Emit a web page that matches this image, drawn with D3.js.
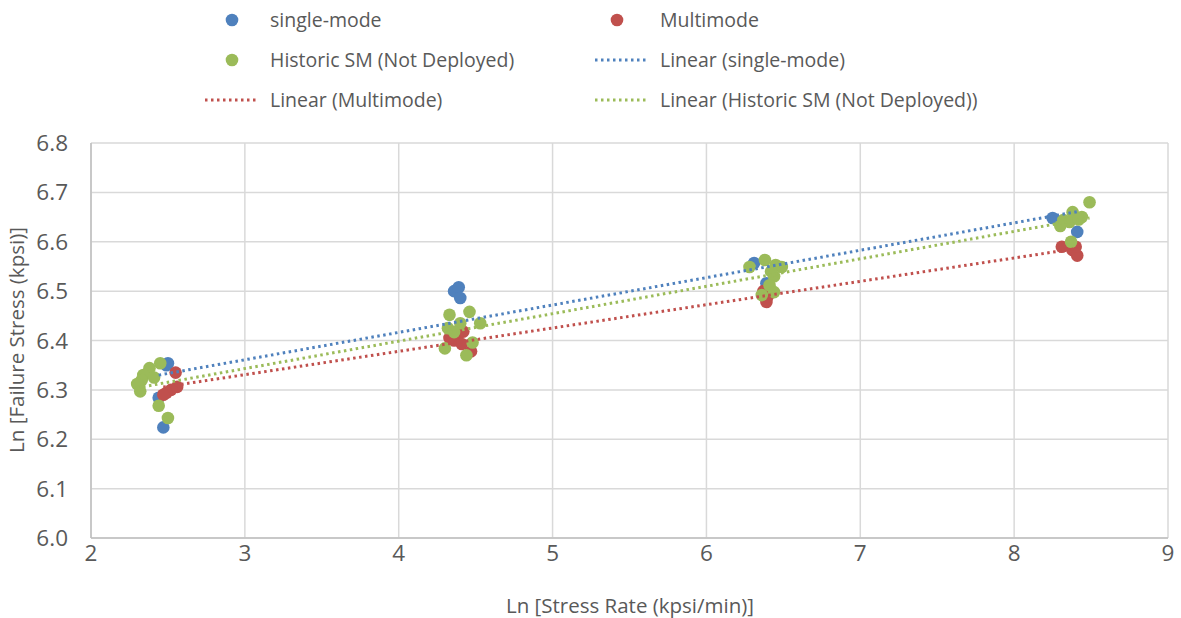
<!DOCTYPE html>
<html><head><meta charset="utf-8">
<script src="https://cdn.jsdelivr.net/npm/d3@7"></script>
<style>body{margin:0;background:#fff}text{font-family:"Liberation Sans Narrow","Open Sans",sans-serif;fill:#595959}</style>
</head><body><svg id="c" width="1181" height="618"></svg>
<script>
const singleMode = [[2.49,6.350],[2.44,6.284],[2.47,6.224],[2.50,6.354],
  [4.36,6.500],[4.39,6.508],[4.40,6.486],
  [6.31,6.557],[6.39,6.516],
  [8.25,6.648],[8.41,6.620]];
const multimode = [[2.55,6.335],[2.56,6.306],[2.52,6.300],[2.49,6.294],[2.47,6.290],
  [4.38,6.410],[4.36,6.400],[4.41,6.393],[4.47,6.378],[4.42,6.418],[4.33,6.405],
  [6.39,6.478],[6.37,6.500],[6.40,6.490],
  [8.31,6.590],[8.38,6.583],[8.41,6.572],[8.40,6.590]];
const historicSM = [[2.45,6.354],[2.38,6.344],[2.34,6.330],[2.33,6.320],[2.30,6.312],[2.32,6.297],[2.44,6.268],[2.50,6.243],[2.41,6.325],
  [4.33,6.452],[4.46,6.458],[4.53,6.435],[4.32,6.425],[4.40,6.435],[4.30,6.384],[4.44,6.370],[4.48,6.396],[4.36,6.417],
  [6.28,6.549],[6.38,6.563],[6.45,6.553],[6.49,6.549],[6.44,6.530],[6.41,6.512],[6.44,6.498],[6.36,6.492],[6.42,6.540],
  [8.49,6.680],[8.38,6.660],[8.32,6.644],[8.44,6.650],[8.36,6.640],[8.37,6.600],[8.42,6.645],[8.30,6.632]];
const xTicks = [2,3,4,5,6,7,8,9];
const yTicks = [6.0,6.1,6.2,6.3,6.4,6.5,6.6,6.7,6.8];
const seriesNames = ["single-mode","Multimode","Historic SM (Not Deployed)"];
const colors = ["#4F81BD","#C0504D","#9BBB59"];
const allSeries = [singleMode, multimode, historicSM];

const svg = d3.select("#c");
const x = d3.scaleLinear().domain([2,9]).range([91,1168]);
const y = d3.scaleLinear().domain([6.0,6.8]).range([538,143]);

// gridlines
svg.append("g").selectAll("line.h").data(yTicks).join("line")
  .attr("x1",x(2)).attr("x2",x(9)).attr("y1",d=>y(d)).attr("y2",d=>y(d))
  .attr("stroke","#d9d9d9").attr("stroke-width",1.5);
svg.append("g").selectAll("line.v").data(xTicks).join("line")
  .attr("y1",y(6.0)).attr("y2",y(6.8)).attr("x1",d=>x(d)).attr("x2",d=>x(d))
  .attr("stroke","#d9d9d9").attr("stroke-width",1.5);
// axis lines
svg.append("line").attr("x1",x(2)).attr("x2",x(9)).attr("y1",y(6)).attr("y2",y(6)).attr("stroke","#bfbfbf").attr("stroke-width",1.5);
svg.append("line").attr("x1",x(2)).attr("x2",x(2)).attr("y1",y(6)).attr("y2",y(6.8)).attr("stroke","#bfbfbf").attr("stroke-width",1.5);

// tick labels
svg.append("g").selectAll("text").data(yTicks).join("text")
  .attr("x",68).attr("y",d=>y(d)).attr("dy","0.36em").attr("text-anchor","end")
  .attr("font-size",22.5).text(d=>d.toFixed(1));
svg.append("g").selectAll("text").data(xTicks).join("text")
  .attr("x",d=>x(d)).attr("y",561).attr("text-anchor","middle")
  .attr("font-size",22.5).text(d=>d);

// axis titles
svg.append("text").attr("x",630).attr("y",613).attr("text-anchor","middle").attr("font-size",20.5).text("Ln [Stress Rate (kpsi/min)]");
svg.append("text").attr("transform","translate(24,340) rotate(-90)").attr("text-anchor","middle").attr("font-size",20.5).text("Ln [Failure Stress (kpsi)]");

// points
allSeries.forEach((s,i)=>{
  svg.append("g").selectAll("circle").data(s).join("circle")
    .attr("cx",d=>x(d[0])).attr("cy",d=>y(d[1])).attr("r",6.3).attr("fill",colors[i]);
});

// trendlines
function fit(s){
  const mx=d3.mean(s,d=>d[0]), my=d3.mean(s,d=>d[1]);
  const b=d3.sum(s,d=>(d[0]-mx)*(d[1]-my))/d3.sum(s,d=>(d[0]-mx)**2);
  const a=my-b*mx; const [x0,x1]=d3.extent(s,d=>d[0]);
  return [[x0,a+b*x0],[x1,a+b*x1]];
}
const line=d3.line().x(d=>x(d[0])).y(d=>y(d[1]));
allSeries.forEach((s,i)=>{
  svg.append("path").attr("d",line(fit(s))).attr("stroke",colors[i]).attr("stroke-width",3)
    .attr("stroke-dasharray","2.5 3.5").attr("fill","none");
});

// legend
const leg = svg.append("g");
const legItems = [
  {t:"marker",c:0,lx:232,tx:270,y:20,label:seriesNames[0]},
  {t:"marker",c:1,lx:617,tx:660,y:20,label:seriesNames[1]},
  {t:"marker",c:2,lx:232,tx:270,y:60,label:seriesNames[2]},
  {t:"line",c:0,lx:595,tx:660,y:60,label:"Linear ("+seriesNames[0]+")"},
  {t:"line",c:1,lx:205,tx:270,y:100,label:"Linear ("+seriesNames[1]+")"},
  {t:"line",c:2,lx:595,tx:660,y:100,label:"Linear ("+seriesNames[2]+")"}
];
legItems.forEach(it=>{
  if(it.t==="marker") leg.append("circle").attr("cx",it.lx).attr("cy",it.y).attr("r",6.3).attr("fill",colors[it.c]);
  else leg.append("line").attr("x1",it.lx).attr("x2",it.lx+52).attr("y1",it.y).attr("y2",it.y)
    .attr("stroke",colors[it.c]).attr("stroke-width",3).attr("stroke-dasharray","2.5 3.5");
  leg.append("text").attr("x",it.tx).attr("y",it.y).attr("dy","0.35em").attr("font-size",19.5).text(it.label);
});
</script></body></html>
